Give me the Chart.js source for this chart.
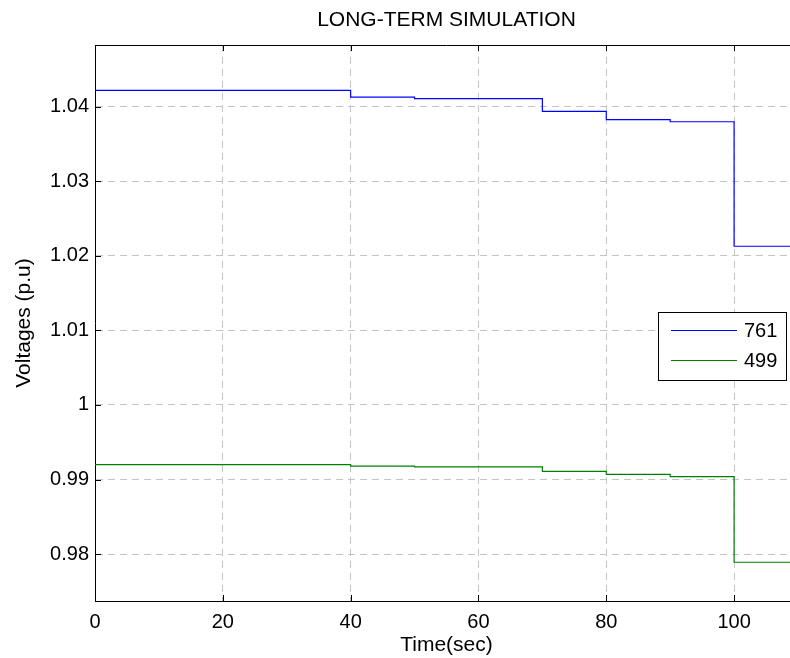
<!DOCTYPE html>
<html>
<head>
<meta charset="utf-8">
<script src="https://cdn.jsdelivr.net/npm/chart.js@4.4.1/dist/chart.umd.min.js"></script>
<style>
  html, body { margin: 0; padding: 0; background: #fff; overflow: hidden; }
  #wrap { width: 800px; height: 658px; }
</style>
</head>
<body>
<div id="wrap"><canvas id="c" width="800" height="658"></canvas></div>
<script>
const times = [0, 40, 50, 70, 80, 90, 100, 110];
const bus761 = [1.0422, 1.0413, 1.0411, 1.0394, 1.0383, 1.0380, 1.0213, 1.0213];
const bus499 = [0.9920, 0.9918, 0.9917, 0.9911, 0.9907, 0.9904, 0.9789, 0.9789];
const seriesNames = ['761', '499'];
const xTicks = [0, 20, 40, 60, 80, 100];
const yTicks = [0.98, 0.99, 1.00, 1.01, 1.02, 1.03, 1.04];
const chartTitle = 'LONG-TERM SIMULATION';

const FONT = 'Liberation Sans, Arial, sans-serif';

// title centred over the axes, frame, inward tick marks and the boxed legend, matlab style
const matlabPlugin = {
  id: 'matlab',
  afterDraw(chart) {
    const { ctx, chartArea: a, scales } = chart;
    ctx.save();
    ctx.fillStyle = '#000';
    ctx.font = '21px ' + FONT;
    ctx.textAlign = 'center';
    ctx.textBaseline = 'middle';
    ctx.fillText(chartTitle, (a.left + a.right) / 2, 20.5);

    ctx.strokeStyle = '#000';
    ctx.lineWidth = 1;
    ctx.beginPath();
    ctx.moveTo(a.left, a.top + 0.5);
    ctx.lineTo(a.right, a.top + 0.5);
    ctx.lineTo(a.right, a.bottom);
    ctx.stroke();

    ctx.beginPath();
    scales.x.ticks.forEach(t => {
      const px = Math.round(scales.x.getPixelForValue(t.value)) + 0.5;
      ctx.moveTo(px, a.bottom); ctx.lineTo(px, a.bottom - 6);
      ctx.moveTo(px, a.top); ctx.lineTo(px, a.top + 6);
    });
    scales.y.ticks.forEach(t => {
      const py = Math.round(scales.y.getPixelForValue(t.value)) + 0.5;
      ctx.moveTo(a.left, py); ctx.lineTo(a.left + 6, py);
    });
    ctx.stroke();

    // legend box
    const bx = 658, by = 312, bw = 128, bh = 68;
    ctx.fillStyle = '#fff';
    ctx.fillRect(bx, by, bw, bh);
    ctx.strokeRect(bx + 0.5, by + 0.5, bw, bh);
    ctx.font = '20px ' + FONT;
    ctx.textBaseline = 'middle';
    ctx.textAlign = 'left';
    chart.data.datasets.forEach((ds, i) => {
      const ly = by + 18 + i * 30 + 0.5;
      ctx.strokeStyle = ds.borderColor;
      ctx.beginPath();
      ctx.moveTo(bx + 13, ly);
      ctx.lineTo(bx + 79, ly);
      ctx.stroke();
      ctx.fillStyle = '#000';
      ctx.fillText(ds.label, bx + 86, ly + 1);
    });
    ctx.restore();
  }
};

new Chart(document.getElementById('c'), {
  type: 'line',
  data: {
    datasets: [
      {
        label: seriesNames[0],
        data: times.map((t, i) => ({ x: t, y: bus761[i] })),
        borderColor: '#0000ff',
        borderWidth: 1.2,
        stepped: true,
        pointRadius: 0,
        fill: false
      },
      {
        label: seriesNames[1],
        data: times.map((t, i) => ({ x: t, y: bus499[i] })),
        borderColor: '#008000',
        borderWidth: 1.2,
        stepped: true,
        pointRadius: 0,
        fill: false
      }
    ]
  },
  options: {
    responsive: false,
    animation: false,
    devicePixelRatio: 1,
    layout: { padding: { left: 0, right: 2, top: 45, bottom: 0 } },
    plugins: {
      legend: { display: false },
      tooltip: { enabled: false },
      title: { display: false }
    },
    scales: {
      x: {
        type: 'linear',
        min: 0,
        max: 110,
        afterBuildTicks: s => { s.ticks = xTicks.map(v => ({ value: v })); },
        afterFit: s => { s.height = 57; },
        ticks: {
          color: '#000',
          font: { family: FONT, size: 20 },
          padding: 9,
          maxRotation: 0
        },
        grid: { color: '#c4c4c4', lineWidth: 1, drawTicks: false },
        border: { display: true, color: '#000', width: 1, dash: [7, 5] },
        title: {
          display: true,
          text: 'Time(sec)',
          color: '#000',
          font: { family: FONT, size: 21 },
          padding: { top: 12, bottom: 0 }
        }
      },
      y: {
        type: 'linear',
        min: 0.9737,
        max: 1.0483,
        afterBuildTicks: s => { s.ticks = yTicks.map(v => ({ value: v })); },
        afterFit: s => { s.width = 95; },
        ticks: {
          color: '#000',
          font: { family: FONT, size: 20 },
          padding: 6,
          callback: v => String(Number(v.toFixed(2)))
        },
        grid: { color: '#c4c4c4', lineWidth: 1, drawTicks: false },
        border: { display: true, color: '#000', width: 1, dash: [7, 5] },
        title: {
          display: true,
          text: 'Voltages (p.u)',
          color: '#000',
          font: { family: FONT, size: 21 },
          padding: { top: 11.5, bottom: 0 }
        }
      }
    }
  },
  plugins: [matlabPlugin]
});
</script>
</body>
</html>
